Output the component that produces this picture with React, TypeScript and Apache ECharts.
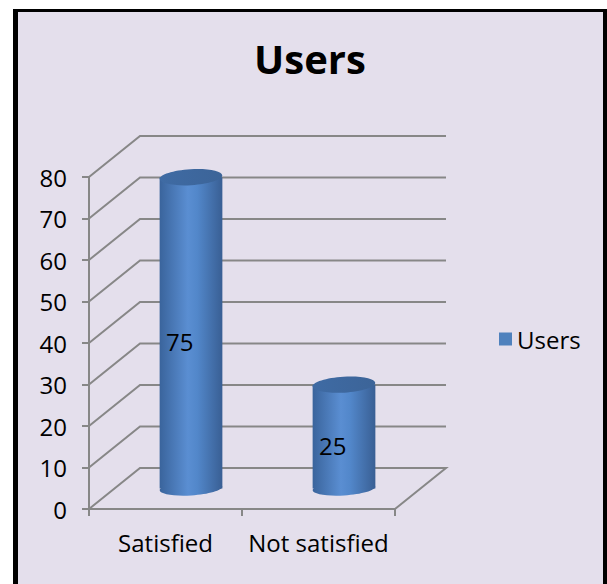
import React, { useEffect, useRef } from 'react';
import * as echarts from 'echarts';

const categories = ['Satisfied', 'Not satisfied'];
const usersValues = [75, 25];
const yTicks = [0, 10, 20, 30, 40, 50, 60, 70, 80];
const seriesName = 'Users';
const titleText = 'Users';

const DX = 51;
const DY = 41;
const FONT = '"Open Sans", "Noto Sans", sans-serif';
const GRID_COLOR = '#878787';

export default function App() {
  const ref = useRef<HTMLDivElement>(null);
  useEffect(() => {
    const chart = echarts.init(ref.current!, null, { renderer: 'svg' });
    const bodyGrad = () =>
      new echarts.graphic.LinearGradient(0, 0, 1, 0, [
        { offset: 0, color: '#3A649C' },
        { offset: 0.45, color: '#5A8ED2' },
        { offset: 0.6, color: '#5287CA' },
        { offset: 1, color: '#395F94' },
      ]);
    const topGrad = () =>
      new echarts.graphic.LinearGradient(0, 0, 1, 0, [
        { offset: 0, color: '#3F6BA4' },
        { offset: 1, color: '#3C6498' },
      ]);
    chart.setOption({
      animation: false,
      backgroundColor: '#ffffff',
      graphic: [
        { type: 'rect', z: -10, silent: true, shape: { x: 13, y: 9, width: 600, height: 600 }, style: { fill: '#000000' } },
        { type: 'rect', z: -9, silent: true, shape: { x: 18, y: 12, width: 585, height: 600 }, style: { fill: '#E4DFEC' } },
      ],
      title: {
        text: titleText,
        left: 305,
        top: 33,
        textAlign: 'center',
        textStyle: { fontFamily: FONT, fontWeight: 'bold', fontSize: 40, color: '#000000' },
      },
      legend: {
        data: [seriesName],
        left: 494,
        top: 322,
        icon: 'rect',
        itemWidth: 13,
        itemHeight: 13,
        textStyle: { fontFamily: FONT, fontSize: 24, color: '#000000' },
      },
      grid: { left: 89, top: 177, width: 306, height: 332 },
      xAxis: {
        type: 'category',
        data: categories,
        axisLine: { show: true, lineStyle: { color: GRID_COLOR, width: 2 } },
        axisTick: { show: true, length: 7, lineStyle: { color: GRID_COLOR, width: 2 } },
        axisLabel: { interval: 0, fontFamily: FONT, fontSize: 24, color: '#000000', margin: 21 },
        splitLine: { show: false },
      },
      yAxis: {
        type: 'value',
        min: 0,
        max: 80,
        interval: 10,
        axisLine: { show: true, lineStyle: { color: GRID_COLOR, width: 2 } },
        axisTick: { show: true, length: 7, lineStyle: { color: GRID_COLOR, width: 2 } },
        axisLabel: { fontFamily: FONT, fontSize: 24, color: '#000000', margin: 22 },
        splitLine: { show: false },
      },
      series: [
        {
          name: 'grid3d',
          type: 'custom',
          silent: true,
          z: 1,
          encode: { x: 0, y: 1 },
          data: yTicks.map((v) => [0, v]),
          renderItem: (params: any, api: any) => {
            const cs = params.coordSys;
            const x0 = cs.x;
            const x1 = cs.x + cs.width;
            const v = api.value(1);
            const y = api.coord([0, v])[1];
            const pts = [
              [x0, y],
              [x0 + DX, y - DY],
              [x1 + DX, y - DY],
            ];
            if (v === 0) pts.push([x1, y]);
            return {
              type: 'polyline',
              shape: { points: pts },
              style: { stroke: GRID_COLOR, lineWidth: 2, fill: 'none' },
            };
          },
        },
        {
          name: seriesName,
          type: 'custom',
          z: 3,
          itemStyle: { color: '#4F81BD' },
          encode: { x: 0, y: 1 },
          data: usersValues.map((v, i) => [i, v]),
          renderItem: (params: any, api: any) => {
            const idx = api.value(0);
            const v = api.value(1);
            const base = api.coord([idx, 0]);
            const top = api.coord([idx, v]);
            const band = api.size([1, 0])[0];
            const w = band * 0.41;
            const rx = w / 2;
            const cx = base[0] + DX / 2;
            const botY = base[1] - DY / 2;
            const topY = top[1] - DY / 2;
            const lx = base[0] + DX * 0.28;
            const ly = (base[1] + top[1]) / 2 - DY * 0.28;
            return {
              type: 'group',
              children: [
                {
                  type: 'ellipse',
                  shape: { cx, cy: botY, rx, ry: 7 },
                  rotation: 0.06,
                  originX: cx,
                  originY: botY,
                  style: { fill: bodyGrad() },
                },
                {
                  type: 'rect',
                  shape: { x: cx - rx, y: topY, width: w, height: botY - topY },
                  style: { fill: bodyGrad() },
                },
                {
                  type: 'ellipse',
                  shape: { cx, cy: topY, rx, ry: 8 },
                  rotation: 0.06,
                  originX: cx,
                  originY: topY,
                  style: { fill: topGrad() },
                },
                {
                  type: 'text',
                  x: lx,
                  y: ly,
                  style: {
                    text: String(v),
                    fontFamily: FONT,
                    fontSize: 24,
                    fill: '#000000',
                    align: 'center',
                    verticalAlign: 'middle',
                  },
                },
              ],
            };
          },
        },
      ],
    });
    return () => chart.dispose();
  }, []);
  return <div ref={ref} style={{ position: 'fixed', left: 0, top: 0, width: 607, height: 584 }} />;
}
